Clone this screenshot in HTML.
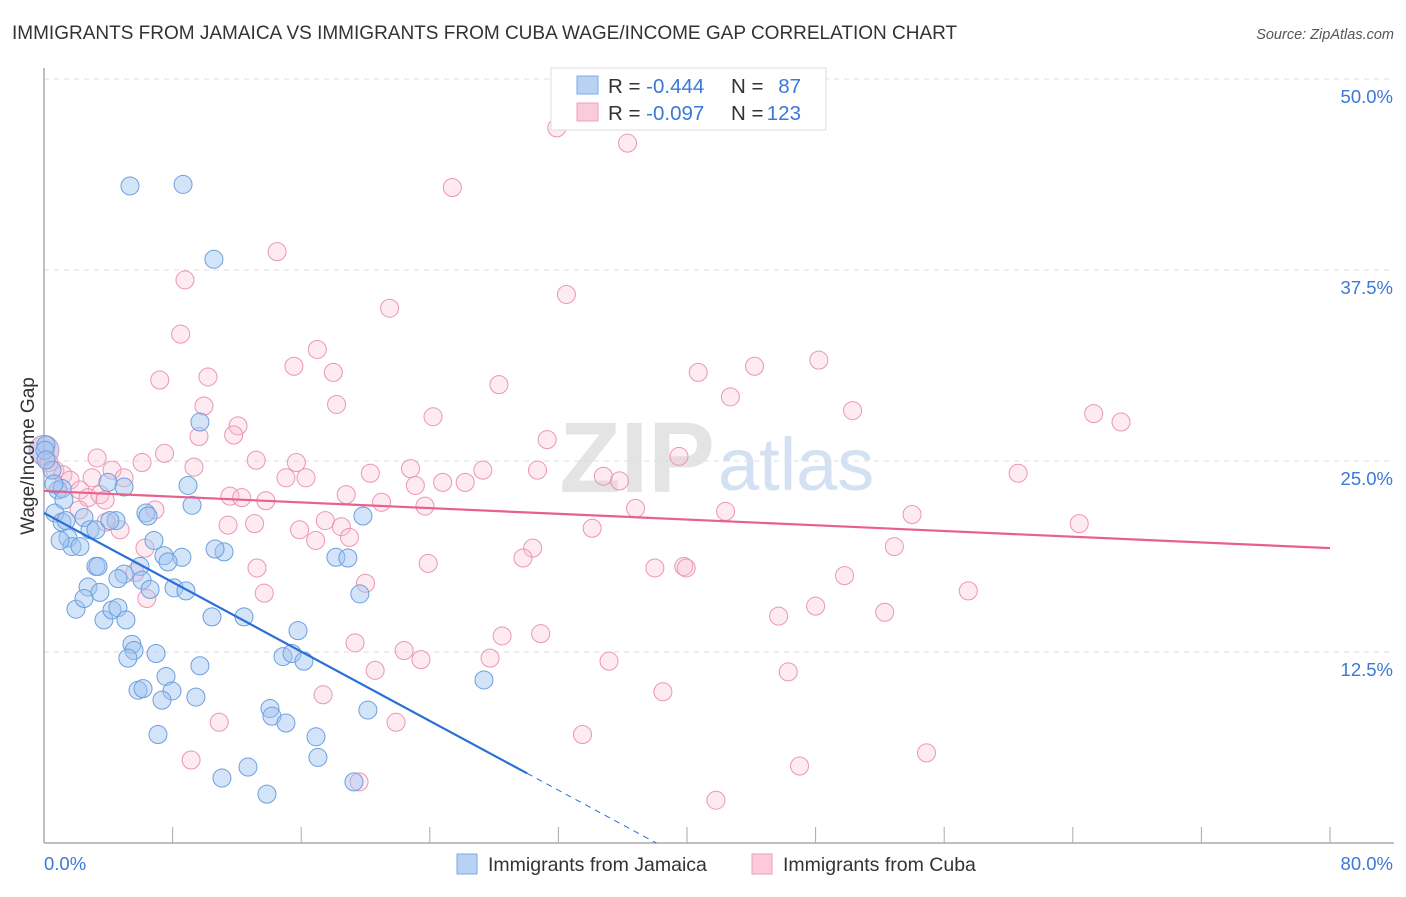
<!DOCTYPE html>
<html><head><meta charset="utf-8"><style>
body{margin:0;background:#fff;font-family:"Liberation Sans",sans-serif;}
svg text{font-family:"Liberation Sans",sans-serif;}
</style></head><body>
<svg id="chart" width="1406" height="892" viewBox="0 0 1406 892" xmlns="http://www.w3.org/2000/svg">
<text x="12" y="39" font-size="19" fill="#333">IMMIGRANTS FROM JAMAICA VS IMMIGRANTS FROM CUBA WAGE/INCOME GAP CORRELATION CHART</text>
<text x="1394" y="39" font-size="14.5" fill="#555" font-style="italic" text-anchor="end">Source: ZipAtlas.com</text>
<g>
<text x="715" y="492" font-size="100" fill="#e4e4e4" text-anchor="end" font-family="Liberation Serif" font-weight="bold">ZIP</text>
<text x="718" y="490" font-size="74" fill="#d3e1f3">atlas</text>
</g>
<g id="grid"></g>
<g id="axes"></g>
<g id="pts"></g>
<g id="lines"></g>
<text transform="translate(34,456) rotate(-90)" font-size="19" fill="#333" text-anchor="middle">Wage/Income Gap</text>
<g>
<rect x="551" y="68" width="275" height="62" fill="#fff" stroke="#ddd"/>
<rect x="577" y="76" width="21" height="18" fill="#b8d2f4" stroke="#7fa9e4"/>
<rect x="577" y="103" width="21" height="18" fill="#fbcbd9" stroke="#eea0b8"/>
<text x="608" y="93" font-size="20.5" fill="#333">R = <tspan fill="#3b78d8">-0.444</tspan></text>
<text x="731" y="93" font-size="20.5" fill="#333">N = </text><text x="801" y="93" font-size="20.5" fill="#3b78d8" text-anchor="end">87</text>
<text x="608" y="120" font-size="20.5" fill="#333">R = <tspan fill="#3b78d8">-0.097</tspan></text>
<text x="731" y="120" font-size="20.5" fill="#333">N = </text><text x="801" y="120" font-size="20.5" fill="#3b78d8" text-anchor="end">123</text>
</g>
<g>
<rect x="457" y="854" width="20" height="20" fill="#b8d2f4" stroke="#7fa9e4"/>
<text x="488" y="871" font-size="19.5" fill="#333">Immigrants from Jamaica</text>
<rect x="752" y="854" width="20" height="20" fill="#fbcbd9" stroke="#eea0b8"/>
<text x="783" y="871" font-size="19.5" fill="#333">Immigrants from Cuba</text>
</g>
</svg>
<script>
const xTicks=[0,8,16,24,32,40,48,56,64,72,80];
const yTicks=[12.5,25,37.5,50];
const yTickLabels=["12.5%","25.0%","37.5%","50.0%"];
const xEndLabels=["0.0%","80.0%"];
const blueX=[5.35,8.65,10.57,9.70,0.12,0.06,0.50,0.87,1.12,0.68,1.12,1.37,1.49,1.74,2.24,2.49,2.86,3.23,3.98,4.98,4.48,6.34,6.47,8.96,9.21,6.84,7.46,8.58,7.71,5.97,4.98,3.23,2.74,3.48,4.60,6.10,8.09,8.83,1.99,2.49,3.73,4.23,4.60,5.47,5.60,5.22,6.97,11.2,10.45,12.44,9.70,7.59,5.85,6.16,7.96,9.45,7.34,7.09,14.06,14.18,15.05,15.8,14.87,15.43,16.17,16.92,17.04,11.07,12.69,13.87,18.16,18.9,19.65,19.84,20.15,19.28,27.37,10.64,0.62,0.12,3.36,4.1,5.1,6.6,1.0,1.24];
const blueY=[43.0,43.1,38.2,27.55,26.05,25.7,24.4,23.1,23.2,21.6,21.0,21.1,19.96,19.4,19.4,21.3,20.5,20.5,23.6,23.3,21.1,21.6,21.4,23.4,22.1,19.8,18.8,18.7,18.4,18.1,17.6,18.1,16.75,16.4,17.3,17.2,16.7,16.5,15.3,16.0,14.6,15.25,15.4,13.0,12.6,12.1,12.4,19.05,14.8,14.8,11.6,10.9,10.0,10.1,9.95,9.55,9.35,7.1,8.8,8.3,7.85,13.9,12.2,12.4,11.9,6.95,5.6,4.25,4.97,3.2,18.7,18.65,16.3,21.4,8.7,4.0,10.67,19.24,23.5,25.07,18.1,21.1,14.6,16.6,19.8,22.45];
const pinkX=[31.9,36.3,25.4,14.5,8.77,32.5,21.5,8.5,17.0,15.55,48.2,44.2,40.7,7.2,10.2,28.3,18.0,42.7,50.3,65.3,67.0,18.2,9.95,24.2,12.07,9.64,11.8,31.3,7.5,3.3,6.1,13.2,15.7,39.5,9.33,60.6,20.3,22.8,27.3,30.7,34.8,35.8,24.8,26.2,23.1,15.05,16.3,0.31,0.68,1.18,1.62,2.24,2.74,3.48,4.23,4.98,3.8,11.57,12.3,13.8,18.8,21.0,23.7,36.8,42.4,54.0,64.4,11.45,17.5,18.5,34.1,15.9,16.9,19.0,4.73,6.9,30.4,29.8,52.9,23.9,13.25,39.8,39.95,38.0,49.8,20.0,5.66,6.4,13.7,57.5,48.0,52.3,45.7,6.28,28.5,30.9,19.35,22.4,23.45,27.75,35.15,20.6,46.3,17.36,38.5,10.9,21.9,33.5,54.9,9.15,47.0,41.8,19.6,13.1,2.18,2.99,3.86];
const pinkY=[46.8,45.8,42.9,38.7,36.85,35.9,35.0,33.3,32.3,31.2,31.6,31.2,30.8,30.3,30.5,30.0,30.8,29.2,28.3,28.1,27.55,28.7,28.6,27.9,27.3,26.6,26.7,26.4,25.5,25.2,24.9,25.05,24.9,25.3,24.6,24.2,24.2,24.5,24.4,24.4,24.0,23.7,23.6,23.6,23.4,23.9,23.9,24.9,24.4,24.1,23.75,23.1,22.6,22.8,24.4,23.9,22.45,22.7,22.6,22.4,22.8,22.3,22.05,21.9,21.7,21.5,20.9,20.8,21.1,20.7,20.6,20.5,19.8,20.0,20.5,21.8,19.3,18.65,19.4,18.3,18.0,18.1,18.0,18.0,17.5,17.0,17.7,16.0,16.35,16.5,15.5,15.1,14.85,19.3,13.55,13.7,13.1,12.6,12.0,12.1,11.9,11.3,11.2,9.7,9.9,7.9,7.9,7.1,5.9,5.43,5.04,2.8,4.0,20.9,21.8,23.9,21.0];
const blueFit=[21.6,-0.567];
const pinkFit=[23.04,-0.0468];
const NS='http://www.w3.org/2000/svg';
const X=v=>44+v*16.075, Y=v=>843-v*15.28;
function mk(tag,attrs,parent){const e=document.createElementNS(NS,tag);for(const k in attrs)e.setAttribute(k,attrs[k]);parent.appendChild(e);return e;}
const grid=document.getElementById('grid'),axes=document.getElementById('axes'),pts=document.getElementById('pts'),lines=document.getElementById('lines');
yTicks.forEach((t,i)=>{
 const l=mk('line',{x1:44,x2:1394,y1:Y(t),y2:Y(t),stroke:'#ddd','stroke-dasharray':'5,5'},grid);
 
 
 const tx=mk('text',{x:1393,y:Y(t)+24,'font-size':18.5,fill:'#3b78d8','text-anchor':'end'},axes);
 tx.textContent=yTickLabels[i];
 
 
});
const ax=mk('line',{x1:44,x2:44,y1:68,y2:843,stroke:'#aaa','stroke-width':1.5},axes);


const bx=mk('line',{x1:44,x2:1394,y1:843,y2:843,stroke:'#aaa','stroke-width':1.5},axes);


xTicks.forEach(t=>{
 const l=mk('line',{x1:X(t),x2:X(t),y1:827,y2:843,stroke:'#aaa'},axes);
 
 
});
const xl0=mk('text',{x:44,y:870,'font-size':18.5,fill:'#3b78d8'},axes);xl0.textContent=xEndLabels[0];


const xl1=mk('text',{x:1393,y:870,'font-size':18.5,fill:'#3b78d8','text-anchor':'end'},axes);xl1.textContent=xEndLabels[1];


const big=mk('circle',{cx:X(0),cy:Y(25.7),r:15,fill:'rgba(190,170,220,0.55)',stroke:'#c9a0c8'},pts);


pinkX.forEach((v,i)=>{
 const c=mk('circle',{cx:X(v),cy:Y(pinkY[i]),r:9,fill:'rgba(248,190,210,0.3)',stroke:'#eb96b2','stroke-width':1},pts);
 
 
});
blueX.forEach((v,i)=>{
 const c=mk('circle',{cx:X(v),cy:Y(blueY[i]),r:9,fill:'rgba(160,196,240,0.45)',stroke:'#6c9fe0','stroke-width':1},pts);
 
 
});
const bEnd=30.05, bZero=-blueFit[0]/blueFit[1];
const bl=mk('line',{x1:X(0),y1:Y(blueFit[0]),x2:X(bEnd),y2:Y(blueFit[0]+blueFit[1]*bEnd),stroke:'#2a6fd6','stroke-width':2.2},lines);


const bd=mk('line',{x1:X(bEnd),y1:Y(blueFit[0]+blueFit[1]*bEnd),x2:X(bZero),y2:Y(0),stroke:'#2a6fd6','stroke-width':1,'stroke-dasharray':'6,5'},lines);


const pl=mk('line',{x1:X(0),y1:Y(pinkFit[0]),x2:X(80),y2:Y(pinkFit[0]+pinkFit[1]*80),stroke:'#e8608c','stroke-width':2.2},lines);


</script>
</body></html>
